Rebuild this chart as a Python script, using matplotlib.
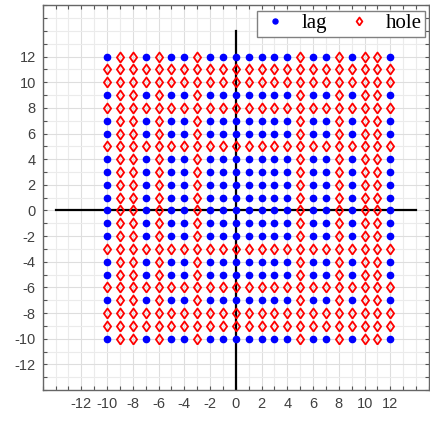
import numpy as np
import matplotlib
matplotlib.use("Agg")
import matplotlib.pyplot as plt
from matplotlib.ticker import MultipleLocator, FixedLocator

plt.rcParams["axes.unicode_minus"] = False

# grid coordinates of the lattice
x_vals = list(range(-10, 13))
y_vals = list(range(12, -11, -1))

# one string per row (top y=12 to bottom y=-10), one char per x (-10..12)
# '.' = lag, 'o' = hole
LAG_ROW = ".oo.o..o.......o..o.oo."
HOLE_ROW = "ooooooooooooooooooooooo"
rows = [
    LAG_ROW,   # 12
    HOLE_ROW,  # 11
    HOLE_ROW,  # 10
    LAG_ROW,   # 9
    HOLE_ROW,  # 8
    LAG_ROW,   # 7
    LAG_ROW,   # 6
    HOLE_ROW,  # 5
    LAG_ROW,   # 4
    LAG_ROW,   # 3
    LAG_ROW,   # 2
    LAG_ROW,   # 1
    LAG_ROW,   # 0
    LAG_ROW,   # -1
    LAG_ROW,   # -2
    HOLE_ROW,  # -3
    LAG_ROW,   # -4
    LAG_ROW,   # -5
    HOLE_ROW,  # -6
    LAG_ROW,   # -7
    HOLE_ROW,  # -8
    HOLE_ROW,  # -9
    LAG_ROW,   # -10
]

tick_vals = list(range(-12, 13, 2))

lag_x, lag_y, hole_x, hole_y = [], [], [], []
for y, row in zip(y_vals, rows):
    for x, c in zip(x_vals, row):
        if c == "o":
            hole_x.append(x)
            hole_y.append(y)
        else:
            lag_x.append(x)
            lag_y.append(y)

# diamond a bit wider than matplotlib's thin 'd'
diamond = [(0, -1), (0.72, 0), (0, 1), (-0.72, 0), (0, -1)]

fig = plt.figure(figsize=(4.3, 4.23), dpi=100)
ax = fig.add_axes([42.7 / 430, 33 / 423, 386.3 / 430, 384.7 / 423])

ax.set_xlim(-15, 15)
ax.set_ylim(-14, 16)

ax.xaxis.set_major_locator(FixedLocator(tick_vals))
ax.yaxis.set_major_locator(FixedLocator(tick_vals))
ax.xaxis.set_minor_locator(MultipleLocator(1))
ax.yaxis.set_minor_locator(MultipleLocator(1))
ax.grid(True, which="major", color="#dedede", linewidth=0.8)
ax.grid(True, which="minor", color="#ebebeb", linewidth=0.8)
ax.set_axisbelow(True)

ax.tick_params(which="both", direction="in", top=True, right=True,
               length=3, width=0.8, color="#555555")
ax.tick_params(which="major", labelsize=10.5, labelcolor="#404040", pad=5)
for lbl in ax.get_xticklabels() + ax.get_yticklabels():
    lbl.set_fontfamily("Liberation Sans")
for s in ax.spines.values():
    s.set_color("#666666")
    s.set_linewidth(1.0)

ax.plot([-14, 14], [0, 0], color="black", linewidth=1.6, zorder=2)
ax.plot([0, 0], [-14, 14], color="black", linewidth=1.6, zorder=2)

ax.plot(lag_x, lag_y, "o", color="blue", markersize=4.5, linestyle="none",
        label="lag", zorder=3)
ax.plot(hole_x, hole_y, marker=diamond, markeredgecolor="red", markerfacecolor="none",
        markersize=7.2, markeredgewidth=1.3, linestyle="none", label="hole", zorder=3)

leg = ax.legend(loc="upper right", bbox_to_anchor=(0.9897, 0.986), borderaxespad=0,
                ncol=2, numpoints=1, fancybox=False, framealpha=1,
                edgecolor="#808080", borderpad=0.15, handlelength=1.4,
                handletextpad=0.6, columnspacing=0.8, markerscale=0.8,
                prop={"family": "Liberation Serif", "size": 15})
leg.get_frame().set_linewidth(1.0)

fig.savefig("out.png", dpi=100)
